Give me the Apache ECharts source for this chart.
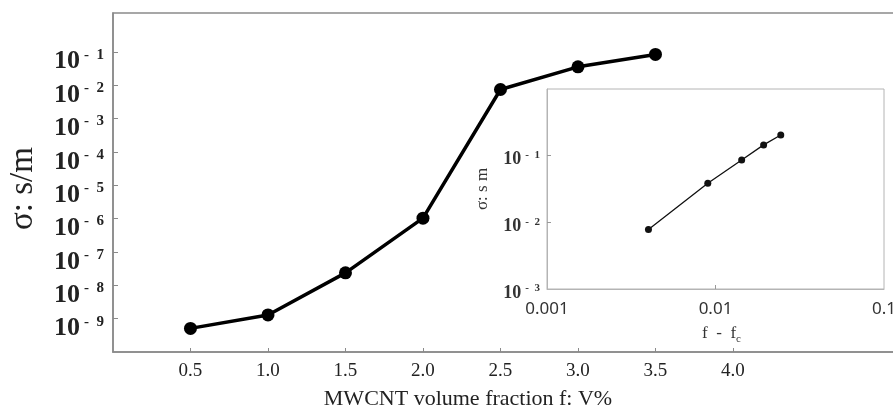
<!DOCTYPE html>
<html>
<head>
<meta charset="utf-8">
<script src="https://cdn.jsdelivr.net/npm/echarts@6/dist/echarts.min.js"></script>
<style>
html,body{margin:0;padding:0;background:#fff}
#chart{width:893px;height:410px}
</style>
</head>
<body>
<div id="chart"></div>
<script>
// main curve: conductivity vs MWCNT volume fraction
var fraction = [0.5, 1.0, 1.5, 2.0, 2.5, 3.0, 3.5];
var conductivity = [5.1e-10, 1.29e-9, 2.36e-8, 1.03e-6, 7.4e-3, 3.54e-2, 8.3e-2];
var xTicks = [0.5, 1.0, 1.5, 2.0, 2.5, 3.0, 3.5, 4.0];
var yExps = [-1, -2, -3, -4, -5, -6, -7, -8, -9];

// inset: conductivity vs f - fc (log-log)
var fDiff = [0.0040, 0.0090, 0.0143, 0.0193, 0.0244];
var insetConductivity = [0.0078, 0.0385, 0.086, 0.145, 0.204];
var insetXTicks = [0.001, 0.01, 0.1];
var insetYExps = [-1, -2, -3];

var serif = 'Liberation Serif';
var axisGray = '#8a8a8a';

var mainData = fraction.map(function (f, i) { return [f, Math.log10(conductivity[i])]; });
var insetData = fDiff.map(function (f, i) { return [Math.log10(f), Math.log10(insetConductivity[i])]; });

function powLabel(v) {
    return '{b|10}{s|-  ' + (-v) + '}';
}

var option = {
    backgroundColor: '#fff',
    animation: false,
    grid: [
        { left: 113, top: 13, right: -12, bottom: 58, show: true, borderColor: axisGray, borderWidth: 1.5, outerBoundsMode: 'none' },
        { left: 547, top: 89, width: 337, height: 200, show: true, borderColor: '#b4b4b4', borderWidth: 1, backgroundColor: '#fff', outerBoundsMode: 'none' }
    ],
    xAxis: [
        {
            type: 'value', gridIndex: 0, min: 0, max: 5.11, interval: 0.5,
            axisLine: { onZero: false, lineStyle: { color: axisGray, width: 1.5 } },
            axisTick: { inside: true, length: 4, customValues: xTicks, lineStyle: { color: axisGray } },
            axisLabel: {
                customValues: xTicks, margin: 10, color: '#222', fontFamily: serif, fontSize: 19,
                formatter: function (v) { return v.toFixed(1); }
            },
            splitLine: { show: false },
            name: 'MWCNT volume fraction f: V%', nameLocation: 'middle', nameGap: 36,
            nameTextStyle: { fontFamily: serif, fontSize: 22, color: '#222', padding: [0, 82, 0, 0] }
        },
        {
            type: 'value', gridIndex: 1, min: -3, max: -1, interval: 1,
            axisLine: { onZero: false, lineStyle: { color: '#b4b4b4', width: 1 } },
            axisTick: { inside: true, length: 4, customValues: [-2], lineStyle: { color: '#999' } },
            axisLabel: {
                customValues: insetXTicks.map(Math.log10), margin: 12, color: '#333',
                fontFamily: 'Noto Sans', fontSize: 17,
                formatter: function (v) { return String(+Math.pow(10, v).toPrecision(1)); }
            },
            splitLine: { show: false },
            name: '{a|f  -  f}{c|c}', nameLocation: 'middle', nameGap: 33,
            nameTextStyle: {
                padding: [0, 0, 0, 12],
                rich: {
                    a: { fontFamily: serif, fontSize: 17, color: '#333' },
                    c: { fontFamily: serif, fontSize: 11, color: '#333', padding: [12, 0, 0, 0] }
                }
            }
        }
    ],
    yAxis: [
        {
            type: 'value', gridIndex: 0, min: -10, max: 0.162, interval: 1,
            axisLine: { onZero: false, lineStyle: { color: axisGray, width: 1.5 } },
            axisTick: { inside: true, length: 5, customValues: yExps, lineStyle: { color: axisGray } },
            axisLabel: {
                customValues: yExps, margin: 9, formatter: powLabel, padding: [20, 0, 0, 0],
                rich: {
                    b: { fontFamily: serif, fontWeight: 'bold', fontSize: 26, color: '#222', padding: [0, 4, 0, 0] },
                    s: { fontFamily: serif, fontWeight: 'bold', fontSize: 15, color: '#222', padding: [0, 0, 14, 0] }
                }
            },
            splitLine: { show: false },
            name: 'σ: s/m', nameLocation: 'middle', nameGap: 73, nameRotate: 90,
            nameTextStyle: { fontFamily: serif, fontSize: 33, color: '#222', padding: [0, 12, 0, 0] }
        },
        {
            type: 'value', gridIndex: 1, min: -3, max: 0, interval: 1,
            axisLine: { onZero: false, lineStyle: { color: '#b4b4b4', width: 1 } },
            axisTick: { inside: true, length: 4, customValues: [-1, -2], lineStyle: { color: '#999' } },
            axisLabel: {
                customValues: insetYExps, margin: 7, formatter: powLabel, padding: [8, 0, 0, 0],
                rich: {
                    b: { fontFamily: serif, fontWeight: 'bold', fontSize: 18, color: '#333', padding: [0, 4, 0, 0] },
                    s: { fontFamily: serif, fontWeight: 'bold', fontSize: 11, color: '#333', padding: [0, 0, 9, 0] }
                }
            },
            splitLine: { show: false },
            name: 'σ: s m', nameLocation: 'middle', nameGap: 56, nameRotate: 90,
            nameTextStyle: { fontFamily: serif, fontSize: 17, color: '#333' }
        }
    ],
    series: [
        {
            type: 'line', xAxisIndex: 0, yAxisIndex: 0, data: mainData,
            symbol: 'circle', symbolSize: 13,
            lineStyle: { color: '#000', width: 3.5 },
            itemStyle: { color: '#000' }
        },
        {
            type: 'line', xAxisIndex: 1, yAxisIndex: 1, data: insetData,
            symbol: 'circle', symbolSize: 7,
            lineStyle: { color: '#111', width: 1.3 },
            itemStyle: { color: '#111' }
        }
    ]
};

var chart = echarts.init(document.getElementById('chart'));
chart.setOption(option);
</script>
</body>
</html>
